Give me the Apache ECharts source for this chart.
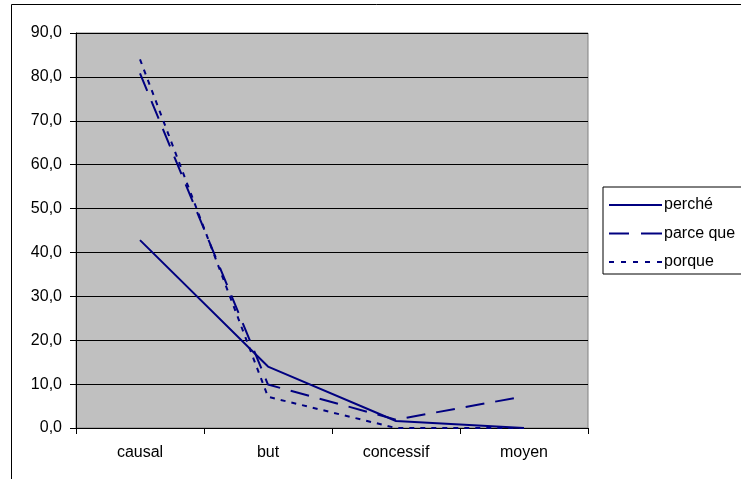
<!DOCTYPE html>
<html><head><meta charset="utf-8">
<script src="https://cdn.jsdelivr.net/npm/echarts@6/dist/echarts.min.js"></script>
<style>html,body{margin:0;padding:0;background:#fff}#c{width:741px;height:479px}</style>
</head><body><div id="c"></div>
<script>
var categories = ['causal', 'but', 'concessif', 'moyen'];
var perche = [42.8, 14.0, 1.6, 0.0];
var parceQue = [80.8, 9.9, 1.9, 7.2];
var porque = [84.0, 7.1, 0.0, 0.0];
var seriesNames = ['perché', 'parce que', 'porque'];

var FONT = 'Liberation Sans, Arial, sans-serif';
var navy = '#000080';
var icons = [
  'path://M0,0H53V2H0Z',
  'path://M0,0H20V2H0Z M32,0H53V2H32Z',
  'path://M0,0H5V2H0Z M12,0H17V2H12Z M24,0H29V2H24Z M36,0H41V2H36Z M48,0H53V2H48Z'
];
var chart = echarts.init(document.getElementById('c'));
function mk(name, data, dash) {
  return {
    name: name, type: 'line', data: data, symbol: 'none', showSymbol: false,
    lineStyle: { color: navy, width: 2, type: dash },
    itemStyle: { color: navy }
  };
}
chart.setOption({
  animation: false,
  backgroundColor: '#fff',
  graphic: [{ type: 'rect', silent: true, z: -1,
    shape: { x: 11.5, y: 4.5, width: 800, height: 600 },
    style: { fill: 'none', stroke: '#000', lineWidth: 1 } }],
  grid: { left: 76, right: 153, top: 33, bottom: 51, show: true,
    backgroundColor: '#c0c0c0', borderColor: '#808080', borderWidth: 1 },
  legend: {
    orient: 'vertical', left: 603, top: 187,
    data: seriesNames.map(function (n, i) { return { name: n, icon: icons[i] }; }),
    itemWidth: 53, itemHeight: 2, itemGap: 12.5,
    padding: [10, 25, 4, 6],
    borderColor: '#000', borderWidth: 1, backgroundColor: '#fff',
    itemStyle: { color: navy, borderWidth: 0 },
    textStyle: { fontFamily: FONT, fontSize: 16, color: '#000', padding: [0, 0, 0, -3] }
  },
  xAxis: {
    type: 'category', data: categories, boundaryGap: true,
    axisLine: { lineStyle: { color: '#000', width: 1 } },
    axisTick: { show: true, interval: 0, length: 6, lineStyle: { color: '#000' } },
    axisLabel: { fontFamily: FONT, fontSize: 16, color: '#000', margin: 17 },
    splitLine: { show: false }
  },
  yAxis: {
    type: 'value', min: 0, max: 90, interval: 10,
    axisLine: { show: true, lineStyle: { color: '#000', width: 1 } },
    axisTick: { show: true, length: 6, lineStyle: { color: '#000' } },
    axisLabel: { fontFamily: FONT, fontSize: 16, color: '#000', margin: 14,
      formatter: function (v) { return v.toFixed(1).replace('.', ','); } },
    splitLine: { show: true, lineStyle: { color: '#000', width: 1 } }
  },
  series: [
    mk(seriesNames[0], perche, 'solid'),
    mk(seriesNames[1], parceQue, [19, 11]),
    mk(seriesNames[2], porque, [5, 6])
  ]
});
</script></body></html>
